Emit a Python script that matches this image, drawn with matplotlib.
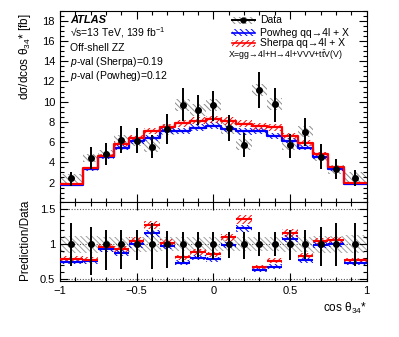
import numpy as np
import matplotlib
matplotlib.use('Agg')
import matplotlib.pyplot as plt
from matplotlib.patches import Rectangle
from matplotlib.lines import Line2D
from matplotlib.ticker import MultipleLocator

plt.rcParams.update({
    'font.family': ['Liberation Sans', 'DejaVu Sans'],
    'mathtext.fontset': 'custom',
    'mathtext.rm': 'Liberation Sans',
    'mathtext.it': 'Liberation Sans:italic',
    'mathtext.bf': 'Liberation Sans:bold',
    'hatch.linewidth': 0.7,
    'axes.linewidth': 0.8,
    'xtick.direction': 'in',
    'ytick.direction': 'in',
    'xtick.top': True,
    'ytick.right': True,
    'xtick.labelsize': 8,
    'ytick.labelsize': 8,
})

# bin edges of cos theta34*
edges = [-1.0, -0.85, -0.75, -0.65, -0.55, -0.45, -0.35, -0.25, -0.15, -0.05,
         0.05, 0.15, 0.25, 0.35, 0.45, 0.55, 0.65, 0.75, 0.85, 1.0]

data = [2.40, 4.40, 4.83, 6.22, 6.12, 5.56, 7.27, 9.65, 9.16, 9.65,
        7.37, 5.76, 11.17, 9.75, 5.69, 7.04, 4.57, 3.32, 2.49]
data_up = [0.65, 1.12, 1.12, 1.35, 1.32, 1.15, 1.55, 1.75, 1.50, 1.45,
           1.29, 1.18, 1.78, 1.65, 1.15, 1.39, 1.22, 0.99, 0.75]
data_dn = [0.74, 1.08, 1.09, 1.26, 1.16, 1.09, 1.42, 1.55, 1.50, 1.55,
           1.25, 1.19, 1.81, 1.72, 1.29, 1.42, 1.25, 0.99, 0.80]
data_syst = [0.42, 0.40, 0.40, 0.50, 0.50, 0.50, 0.55, 0.60, 0.60, 0.60,
             0.55, 0.50, 0.60, 0.60, 0.50, 0.55, 0.45, 0.45, 0.55]

sherpa = [1.90, 3.42, 4.65, 5.82, 6.43, 7.08, 7.45, 7.85, 8.12, 8.25,
          8.10, 7.80, 7.55, 7.47, 6.60, 5.90, 4.78, 3.50, 1.92]
powheg = [1.80, 3.32, 4.50, 5.44, 6.10, 6.42, 7.08, 7.12, 7.42, 7.60,
          7.28, 7.06, 7.08, 6.65, 6.15, 5.42, 4.53, 3.32, 1.82]
pred_unc = 0.045

# ratio panel: relative data errors and syst band
ratio_up = [0.31, 0.25, 0.21, 0.21, 0.20, 0.30, 0.19, 0.18, 0.17, 0.17,
            0.17, 0.17, 0.17, 0.17, 0.21, 0.20, 0.25, 0.30, 0.30]
ratio_dn = [0.31, 0.44, 0.37, 0.35, 0.23, 0.36, 0.34, 0.26, 0.18, 0.21,
            0.19, 0.21, 0.17, 0.17, 0.23, 0.21, 0.31, 0.31, 0.31]
ratio_syst = [0.12, 0.12, 0.11, 0.11, 0.11, 0.11, 0.10, 0.10, 0.10, 0.10,
              0.10, 0.10, 0.10, 0.10, 0.11, 0.11, 0.12, 0.12, 0.13]

edges = np.array(edges)
centers = 0.5 * (edges[:-1] + edges[1:])
widths = np.diff(edges)
data = np.array(data)
sherpa = np.array(sherpa)
powheg = np.array(powheg)
data_syst = np.array(data_syst)
ratio_syst = np.array(ratio_syst)

RED = '#ff0000'
BLUE = '#0000ff'
GRAY = '#8c8c8c'
FWD = '/' * 6
BCK = '\\' * 6

fig = plt.figure(figsize=(3.99, 3.37), dpi=100)
ax1 = fig.add_axes([0.150, 0.400, 0.769, 0.568])
ax2 = fig.add_axes([0.150, 0.166, 0.769, 0.234], sharex=ax1)


def step(y):
    return np.append(y, y[-1])


# top panel
ax1.bar(centers, 2 * data_syst, bottom=data - data_syst, width=widths,
        fill=False, hatch=BCK, edgecolor=GRAY, linewidth=0, zorder=1)
for pred, col, hatch in [(powheg, BLUE, BCK), (sherpa, RED, FWD)]:
    ax1.fill_between(edges, step(pred * (1 - pred_unc)), step(pred * (1 + pred_unc)),
                     step='post', facecolor='none', edgecolor=col, hatch=hatch,
                     linewidth=0, zorder=2)
for pred, col in [(powheg, BLUE), (sherpa, RED)]:
    ax1.step(edges, step(pred), where='post', color=col, lw=1.6, zorder=3)
ax1.errorbar(centers, data, yerr=[data_dn, data_up], fmt='o', color='k',
             ms=4, elinewidth=1.4, capsize=0, zorder=5)

ax1.set_xlim(-1, 1)
ax1.set_ylim(0.05, 19)
ax1.yaxis.set_major_locator(MultipleLocator(2))
ax1.yaxis.set_minor_locator(MultipleLocator(0.5))
ax1.xaxis.set_major_locator(MultipleLocator(0.5))
ax1.xaxis.set_minor_locator(MultipleLocator(0.1))
ax1.tick_params(which='major', length=6, width=0.8, labelbottom=False)
ax1.tick_params(which='minor', length=3, width=0.8)
ax1.set_yticks(np.arange(2, 19, 2))

# ATLAS labels
tx = 0.033
ax1.text(tx, 0.951, 'ATLAS', transform=ax1.transAxes, fontsize=8,
         fontweight='bold', fontstyle='italic', va='center')
ax1.text(tx, 0.887, '\u221as=13 TeV, 139 fb$^{-1}$', transform=ax1.transAxes,
         fontsize=7.5, va='center')
ax1.text(tx, 0.807, 'Off-shell ZZ', transform=ax1.transAxes, fontsize=7.5, va='center')
ax1.text(tx, 0.731, '$p$-val (Sherpa)=0.19', transform=ax1.transAxes,
         fontsize=7.5, va='center')
ax1.text(tx, 0.659, '$p$-val (Powheg)=0.12', transform=ax1.transAxes,
         fontsize=7.5, va='center')

# legend drawn by hand
lx0, lx1, bh = 0.560, 0.636, 0.037
leg = [('Data', 0.951, GRAY, BCK),
       ('Powheg qq\u21924l + X', 0.885, BLUE, BCK),
       ('Sherpa qq\u21924l + X', 0.830, RED, FWD)]
for label, ly, col, hatch in leg:
    ax1.add_patch(Rectangle((lx0, ly - bh / 2), lx1 - lx0, bh, transform=ax1.transAxes,
                            fill=False, hatch=hatch, edgecolor=col, linewidth=0, zorder=6))
    if label == 'Data':
        ax1.add_line(Line2D([lx0, lx1], [ly, ly], transform=ax1.transAxes,
                            color='k', lw=1.4, zorder=7))
        ax1.plot([(lx0 + lx1) / 2], [ly], 'o', color='k', ms=3.5,
                 transform=ax1.transAxes, zorder=8)
    else:
        ax1.add_line(Line2D([lx0, lx1], [ly, ly], transform=ax1.transAxes,
                            color=col, lw=1.2, zorder=7))
    ax1.text(0.652, ly, label, transform=ax1.transAxes, fontsize=7.5, va='center')
ax1.text(0.548, 0.769, 'X=gg\u21924l+H\u21924l+VVV+t$\\mathrm{\\bar{t}}$V(V)',
         transform=ax1.transAxes, fontsize=6.3, va='center')

# ratio panel
ax2.fill_between(edges, step(1 - ratio_syst), step(1 + ratio_syst), step='post',
                 facecolor='none', edgecolor='#a0a0a0', hatch=BCK, linewidth=0,
                 zorder=1)
for yl in [0.5, 1.0, 1.5]:
    ax2.axhline(yl, color='#555555', lw=0.8, ls=(0, (1, 1.5)), zorder=1.5)
for pred, col, hatch in [(powheg, BLUE, BCK), (sherpa, RED, FWD)]:
    r = pred / data
    ax2.bar(centers, 2 * pred_unc * r, bottom=r * (1 - pred_unc), width=widths,
            fill=False, hatch=hatch, edgecolor=col, linewidth=0, zorder=2)
    ax2.hlines(r, edges[:-1], edges[1:], color=col, lw=1.5, zorder=3)
ax2.errorbar(centers, np.ones(len(centers)), yerr=[ratio_dn, ratio_up], fmt='o',
             color='k', ms=4, elinewidth=1.4, capsize=0, zorder=5)

ax2.set_ylim(0.475, 1.6)
ax2.set_yticks([0.5, 1, 1.5])
ax2.set_yticklabels(['0.5', '1', '1.5'])
ax2.yaxis.set_minor_locator(MultipleLocator(0.1))
ax2.set_xticks([-1, -0.5, 0, 0.5, 1])
ax2.set_xticklabels(['\u22121', '\u22120.5', '0', '0.5', '1'])
ax2.tick_params(which='major', length=6, width=0.8)
ax2.tick_params(which='minor', length=3, width=0.8)
ax2.set_xlim(-1, 1)

fig.text(25 / 399, 1 - 13 / 337, 'd\u03c3/dcos \u03b8${}_{34}$* [fb]', rotation=90,
         ha='center', va='top', fontsize=8.5)
fig.text(25 / 399, 1 - 240 / 337, 'Prediction/Data', rotation=90,
         ha='center', va='center', fontsize=8.5)
fig.text(367 / 399, 1 - 308 / 337, 'cos \u03b8${}_{34}$*', ha='right', va='center',
         fontsize=8.5)

fig.savefig('out.png', dpi=100)
